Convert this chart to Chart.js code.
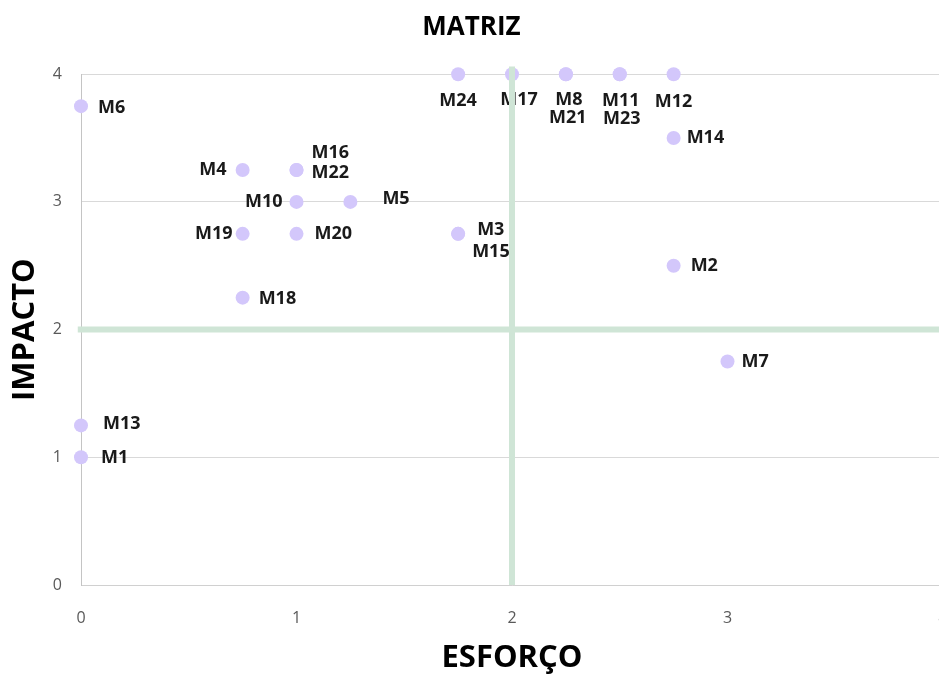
<!DOCTYPE html>
<html lang="pt">
<head>
    <meta charset="UTF-8">
    <title>Matriz</title>
    <script src="https://cdn.jsdelivr.net/npm/chart.js@4.4.0/dist/chart.umd.min.js"></script>
    <style>
        html, body { margin: 0; padding: 0; background: #fff; overflow: hidden; }
        #wrap { width: 960px; height: 675px; }
    </style>
</head>
<body>
    <div id="wrap">
        <canvas id="matriz" width="960" height="675"></canvas>
    </div>

    <script>
        // the data
        const names   = ['M1','M2','M3','M4','M5','M6','M7','M8','M10','M11','M12','M13',
                         'M14','M15','M16','M17','M18','M19','M20','M21','M22','M23','M24'];
        const esforco = [0, 2.75, 1.75, 0.75, 1.25, 0, 3, 2.25, 1, 2.5, 2.75, 0,
                         2.75, 1.75, 1, 2, 0.75, 0.75, 1, 2.25, 1, 2.5, 1.75];
        const impacto = [1, 2.5, 2.75, 3.25, 3, 3.75, 1.75, 4, 3, 4, 4, 1.25,
                         3.5, 2.75, 3.25, 4, 2.25, 2.75, 2.75, 4, 3.25, 4, 4];
        const axisTicks = [0, 1, 2, 3, 4];
        // quadrant split
        const corteEsforco = 2;
        const corteImpacto = 2;

        // where each label sits next to its point (pixels: dx, dy, align)
        const labelPos = {
            M1: [20, 1, 'left'],   M2: [17, 0, 'left'],   M3: [19, -4, 'left'],
            M4: [-16, 0, 'right'], M5: [32, -3, 'left'],  M6: [17, 2, 'left'],
            M7: [14, 0, 'left'],   M8: [3, 26, 'center'], M10: [-14, 0, 'right'],
            M11: [1, 27, 'center'], M12: [0, 28, 'center'], M13: [22, -2, 'left'],
            M14: [13, 0, 'left'],  M15: [14, 18, 'left'], M16: [15, -17, 'left'],
            M17: [7, 26, 'center'], M18: [16, 1, 'left'], M19: [-10, 0, 'right'],
            M20: [18, 0, 'left'],  M21: [2, 44, 'center'], M22: [15, 3, 'left'],
            M23: [2, 45, 'center'], M24: [0, 27, 'center']
        };

        const pontos = names.map((n, i) => ({ x: esforco[i], y: impacto[i] }));

        // draw the names right after the points, so the green lines go on top
        const labelPlugin = {
            id: 'pointNames',
            afterDatasetDraw(chart, args) {
                if (args.index !== 2) return;
                const ctx = chart.ctx;
                ctx.save();
                ctx.font = 'bold 18px "Open Sans"';
                ctx.fillStyle = '#1a1a1a';
                ctx.textBaseline = 'middle';
                args.meta.data.forEach((pt, i) => {
                    const p = labelPos[names[i]];
                    ctx.textAlign = p[2];
                    ctx.fillText(names[i], pt.x + p[0], pt.y + p[1]);
                });
                ctx.restore();
            }
        };

        const verde = '#cfe5d6';

        new Chart(document.getElementById('matriz'), {
            type: 'scatter',
            data: {
                datasets: [
                    {
                        // vertical split
                        data: [{ x: corteEsforco, y: 0 }, { x: corteEsforco, y: 4.06 }],
                        showLine: true, borderColor: verde, borderWidth: 6,
                        pointRadius: 0, clip: false
                    },
                    {
                        // horizontal split
                        data: [{ x: -0.015, y: corteImpacto }, { x: 4, y: corteImpacto }],
                        showLine: true, borderColor: verde, borderWidth: 6,
                        pointRadius: 0, clip: false
                    },
                    {
                        data: pontos,
                        backgroundColor: '#d3c7fb',
                        borderWidth: 0,
                        pointRadius: 7,
                        clip: false
                    }
                ]
            },
            options: {
                responsive: false,
                animation: false,
                layout: { padding: { left: 0, right: 17, top: 0, bottom: 0 } },
                plugins: {
                    legend: { display: false },
                    tooltip: { enabled: false },
                    title: {
                        display: true,
                        text: 'MATRIZ',
                        color: '#000',
                        font: { family: 'Open Sans', size: 26, weight: 'bold', lineHeight: 1.2 },
                        padding: { top: 12, bottom: 31 }
                    }
                },
                scales: {
                    x: {
                        type: 'linear',
                        min: axisTicks[0],
                        max: axisTicks[axisTicks.length - 1],
                        afterBuildTicks: s => { s.ticks = axisTicks.map(v => ({ value: v })); },
                        // fixed height, and no extra room kept for the "4" (it is cut off)
                        afterFit: s => { s.height = 90; s.paddingRight = 0; s.paddingLeft = 0; },
                        grid: { display: false },
                        border: { display: true, color: '#d0d0d0', width: 1 },
                        ticks: {
                            color: '#595959',
                            padding: 16,
                            font: { family: 'Open Sans', size: 16 }
                        },
                        title: {
                            display: true,
                            text: 'ESFORÇO',
                            color: '#000',
                            font: { family: 'Open Sans', size: 31, weight: 'bold', lineHeight: 1.0 },
                            padding: { top: 0, bottom: 1 }
                        }
                    },
                    y: {
                        min: axisTicks[0],
                        max: axisTicks[axisTicks.length - 1],
                        afterBuildTicks: s => { s.ticks = axisTicks.map(v => ({ value: v })); },
                        afterFit: s => { s.width = 81; },
                        grid: { color: '#d9d9d9', drawTicks: false },
                        border: { display: true, color: '#c4c4c4', width: 1 },
                        ticks: {
                            color: '#595959',
                            padding: 19,
                            font: { family: 'Open Sans', size: 16 }
                        },
                        title: {
                            display: true,
                            text: 'IMPACTO',
                            color: '#000',
                            font: { family: 'Open Sans', size: 31, weight: 'bold', lineHeight: 1.0 },
                            padding: { top: 10, bottom: 0 }
                        }
                    }
                }
            },
            plugins: [labelPlugin]
        });
    </script>
</body>
</html>
